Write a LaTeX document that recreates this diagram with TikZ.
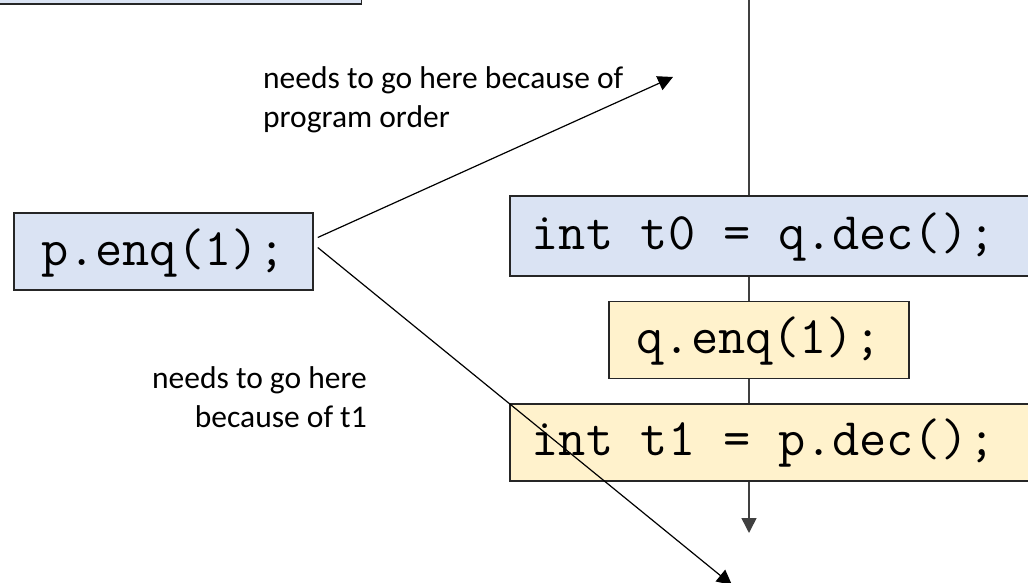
\documentclass[tikz,border=0pt]{standalone}
\usepackage{fontspec}
\setmainfont{Carlito}
\usetikzlibrary{arrows.meta,calc}
\definecolor{boxblue}{HTML}{DAE3F3}
\definecolor{boxyellow}{HTML}{FFF2CC}
\newcommand{\msp}{\hspace*{0.525em}}
\begin{document}
\begin{tikzpicture}[x=1pt,y=-1pt,
  codebox/.style={draw=black!85, line width=1.5pt, font=\ttfamily\fontsize{52.8}{60}\selectfont,
    text height=36pt, text depth=9pt},
  lbl/.style={inner sep=0pt, font=\fontsize{31.5}{38.5}\selectfont},
  vline/.style={draw=black!75, line width=1.5pt},
  conn/.style={draw=black, line width=1.2pt},
  tip/.style={-{Triangle[length=15pt,width=15pt]}}
]
\useasboundingbox (0,0) rectangle (1028,583);
\clip (0,0) rectangle (1028,583);

\node[codebox, fill=boxblue, anchor=south east, minimum width=400pt, minimum height=80pt] (hdr) at (362,5) {};
\node[codebox, fill=boxblue, minimum width=299pt, minimum height=77pt] (p) at (163.5,251.5) {p.enq(1);};
\node[codebox, fill=boxblue, anchor=north west, minimum height=80pt, text width=516pt, inner xsep=22pt, align=left] (t0) at (509,195) {int\msp t0\msp=\msp q.dec();};
\node[codebox, fill=boxyellow, minimum width=300pt, minimum height=77pt] (q) at (759,340) {q.enq(1);};
\node[codebox, fill=boxyellow, anchor=north west, minimum height=77pt, text width=516pt, inner xsep=22pt, align=left] (t1) at (509,403) {int\msp t1\msp=\msp p.dec();};

\node[lbl, anchor=west, align=left] (l1) at (263,100) {needs to go here because of\\program order};
\node[lbl, anchor=east, align=right] (l2) at (367,397) {needs to go here\\because of t1};

\coordinate (vtop) at (749,0);
\coordinate (vend) at (749,533);
\draw[vline] (vtop) -- (vtop |- t0.north);
\draw[vline] (vtop |- t0.south) -- (vtop |- q.north);
\draw[vline] (vtop |- q.south) -- (vtop |- t1.north);
\draw[vline, tip] (vtop |- t1.south) -- (vend);

\coordinate (e1) at (673,77);
\coordinate (e2) at (732,585);
\draw[conn, tip] ([shift={(4,-14)}]p.east) -- (e1);
\draw[conn, tip] ([shift={(4,-4)}]p.east) -- (e2);
\end{tikzpicture}
\end{document}
